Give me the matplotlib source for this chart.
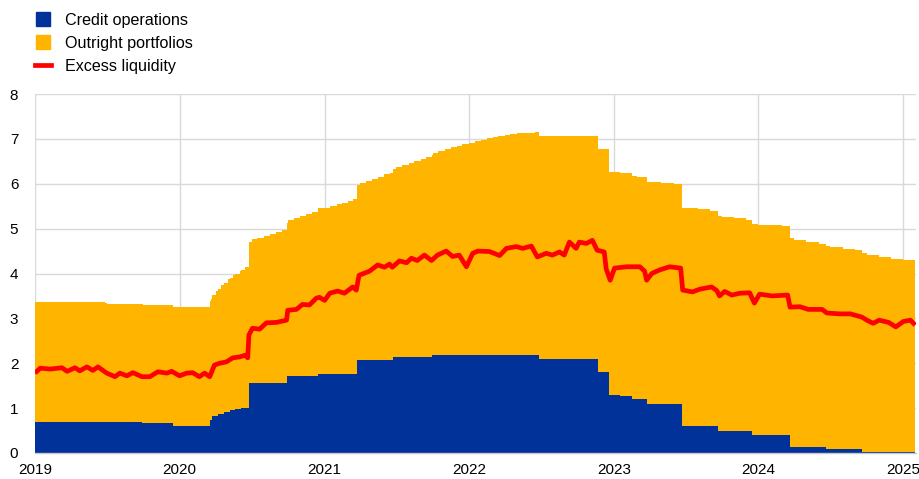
import matplotlib
matplotlib.use("Agg")
import matplotlib.pyplot as plt
import matplotlib.dates as mdates
from matplotlib.lines import Line2D
import pandas as pd

# EUR trillions
credit_dates = [
    "2019-01-01", "2019-06-26", "2019-09-27", "2019-12-16",
    "2020-03-17", "2020-03-24", "2020-04-08", "2020-04-22", "2020-05-06",
    "2020-05-20", "2020-06-03", "2020-06-23", "2020-09-29", "2020-12-16",
    "2021-03-23", "2021-06-22", "2021-09-28", "2022-06-27", "2022-11-21",
    "2022-12-19", "2023-01-16", "2023-02-15", "2023-03-25", "2023-06-23",
    "2023-09-20", "2023-12-15", "2024-03-21", "2024-06-19", "2024-09-18",
    "2025-01-31",
]
credit_ops = [
    0.70, 0.68, 0.66, 0.61,
    0.73, 0.82, 0.88, 0.92, 0.95,
    0.98, 1.00, 1.56, 1.71, 1.77,
    2.07, 2.15, 2.19, 2.10, 1.80,
    1.29, 1.27, 1.20, 1.09, 0.60,
    0.49, 0.40, 0.13, 0.09, 0.03,
    0.03,
]

outright_dates = [
    "2019-01-01", "2019-07-01", "2019-10-01", "2019-12-01", "2020-03-01",
    "2020-03-20", "2020-04-01", "2020-04-15", "2020-05-01", "2020-05-15",
    "2020-06-01", "2020-06-15", "2020-07-01", "2020-07-15", "2020-08-01",
    "2020-08-15", "2020-09-01", "2020-09-15", "2020-10-01", "2020-10-15",
    "2020-11-01", "2020-11-15", "2020-12-01", "2020-12-15", "2021-01-01",
    "2021-01-15", "2021-02-01", "2021-02-15", "2021-03-01", "2021-03-15",
    "2021-04-01", "2021-04-15", "2021-05-01", "2021-05-15", "2021-06-01",
    "2021-06-15", "2021-07-01", "2021-07-15", "2021-08-01", "2021-08-15",
    "2021-09-01", "2021-09-15", "2021-10-01", "2021-10-15", "2021-11-01",
    "2021-11-15", "2021-12-01", "2021-12-15", "2022-01-01", "2022-01-15",
    "2022-02-01", "2022-02-15", "2022-03-01", "2022-03-15", "2022-04-01",
    "2022-04-15", "2022-05-01", "2022-05-15", "2022-06-01", "2022-06-15",
    "2022-07-01", "2023-03-01", "2023-04-01", "2023-05-01", "2023-06-01",
    "2023-06-23", "2023-08-01", "2023-09-01", "2023-10-01", "2023-11-01",
    "2023-12-01", "2024-01-01", "2024-02-01", "2024-03-01", "2024-04-01",
    "2024-05-01", "2024-06-01", "2024-07-01", "2024-08-01", "2024-09-01",
    "2024-10-01", "2024-11-01", "2024-12-01", "2025-01-01", "2025-01-31",
]
outright_portfolios = [
    2.66, 2.65, 2.63, 2.64, 2.65,
    2.70, 2.78, 2.86, 2.95, 3.02,
    3.08, 3.14, 3.20, 3.24, 3.28,
    3.32, 3.37, 3.42, 3.48, 3.53,
    3.58, 3.62, 3.66, 3.68, 3.70,
    3.74, 3.78, 3.81, 3.85, 3.90,
    3.95, 3.99, 4.04, 4.09, 4.15,
    4.18, 4.22, 4.27, 4.32, 4.36,
    4.40, 4.45, 4.50, 4.54, 4.58,
    4.62, 4.66, 4.69, 4.72, 4.76,
    4.79, 4.82, 4.85, 4.88, 4.90,
    4.92, 4.93, 4.94, 4.95, 4.96,
    4.97, 4.96, 4.94, 4.93, 4.91,
    4.86, 4.83, 4.79, 4.77, 4.74,
    4.71, 4.69, 4.67, 4.65, 4.62,
    4.57, 4.53, 4.49, 4.46, 4.43,
    4.38, 4.34, 4.30, 4.26, 4.26,
]

excess_dates = [
    "2019-01-01", "2019-01-14", "2019-02-08", "2019-03-10", "2019-03-23",
    "2019-04-12", "2019-04-24", "2019-05-12", "2019-05-27", "2019-06-09",
    "2019-07-01", "2019-07-22", "2019-08-03", "2019-08-21", "2019-09-05",
    "2019-09-28", "2019-10-18", "2019-11-07", "2019-11-30", "2019-12-12",
    "2020-01-01", "2020-01-19", "2020-02-03", "2020-02-20", "2020-03-04",
    "2020-03-17", "2020-03-29", "2020-04-11", "2020-04-28", "2020-05-14",
    "2020-05-31", "2020-06-15", "2020-06-21", "2020-06-24", "2020-07-03",
    "2020-07-21", "2020-08-07", "2020-09-01", "2020-09-27", "2020-09-30",
    "2020-10-22", "2020-11-06", "2020-11-24", "2020-12-11", "2020-12-19",
    "2021-01-01", "2021-01-14", "2021-02-03", "2021-02-20", "2021-03-13",
    "2021-03-22", "2021-03-29", "2021-04-24", "2021-05-15", "2021-06-01",
    "2021-06-14", "2021-06-21", "2021-07-09", "2021-07-27", "2021-08-08",
    "2021-08-23", "2021-09-10", "2021-09-28", "2021-10-13", "2021-11-04",
    "2021-11-20", "2021-12-07", "2021-12-25", "2022-01-10", "2022-01-23",
    "2022-02-21", "2022-03-19",
    "2022-04-05", "2022-04-30", "2022-05-16", "2022-06-07", "2022-06-22",
    "2022-07-15", "2022-07-30", "2022-08-17", "2022-08-29", "2022-09-11",
    "2022-09-28", "2022-10-06", "2022-10-24", "2022-11-08", "2022-11-20",
    "2022-12-08", "2022-12-13", "2022-12-23", "2023-01-03", "2023-02-03",
    "2023-03-08", "2023-03-20", "2023-03-25", "2023-04-07", "2023-04-27",
    "2023-05-22", "2023-06-19", "2023-06-24", "2023-07-19", "2023-08-06",
    "2023-09-05", "2023-09-18", "2023-09-25", "2023-10-08", "2023-10-26",
    "2023-11-15", "2023-12-10", "2023-12-22", "2024-01-04", "2024-02-05",
    "2024-03-15", "2024-03-21", "2024-04-15", "2024-05-06", "2024-06-10",
    "2024-06-22", "2024-07-25", "2024-08-20", "2024-09-18", "2024-10-01",
    "2024-10-17", "2024-11-01", "2024-11-25", "2024-12-13", "2025-01-01",
    "2025-01-19", "2025-01-31",
]
excess_liquidity = [
    1.78, 1.89, 1.87, 1.90, 1.82,
    1.90, 1.83, 1.92, 1.84, 1.92,
    1.78, 1.70, 1.78, 1.72, 1.79,
    1.70, 1.70, 1.81, 1.78, 1.82,
    1.72, 1.78, 1.79, 1.70, 1.78,
    1.70, 1.96, 2.00, 2.03, 2.12,
    2.14, 2.18, 2.12, 2.63, 2.78,
    2.76, 2.90, 2.91, 2.96, 3.18,
    3.20, 3.31, 3.30, 3.45, 3.47,
    3.40, 3.56, 3.61, 3.56, 3.70,
    3.63, 3.96, 4.05, 4.19, 4.14,
    4.21, 4.14, 4.28, 4.24, 4.34,
    4.29, 4.41, 4.29, 4.41, 4.50,
    4.38, 4.41, 4.15, 4.45, 4.50,
    4.49, 4.40,
    4.56, 4.60, 4.56, 4.61, 4.37,
    4.45, 4.41, 4.48, 4.41, 4.70,
    4.56, 4.70, 4.67, 4.74, 4.52,
    4.48, 4.10, 3.85, 4.12, 4.15,
    4.15, 4.05, 3.85, 4.00, 4.08,
    4.15, 4.12, 3.63, 3.59, 3.65,
    3.70, 3.62, 3.50, 3.60, 3.52,
    3.56, 3.57, 3.34, 3.54, 3.50,
    3.52, 3.25, 3.26, 3.20, 3.20,
    3.12, 3.10, 3.10, 3.03, 2.96,
    2.89, 2.96, 2.91, 2.81, 2.93,
    2.96, 2.85,
]

year_ticks = ["2019", "2020", "2021", "2022", "2023", "2024", "2025"]
y_ticks = [0, 1, 2, 3, 4, 5, 6, 7, 8]

BLUE = "#003299"
YELLOW = "#FFB400"
RED = "#FF0000"
GRID = "#D9D9D9"

plt.rcParams["font.family"] = ["Liberation Sans", "DejaVu Sans"]

# both balance-sheet items are step series; align them on a shared index
credit = pd.Series(credit_ops, index=pd.to_datetime(credit_dates))
outright = pd.Series(outright_portfolios, index=pd.to_datetime(outright_dates))
idx = credit.index.union(outright.index)
c = credit.reindex(idx).ffill()
o = outright.reindex(idx).ffill()
excess = pd.Series(excess_liquidity, index=pd.to_datetime(excess_dates))

fig = plt.figure(figsize=(9.2, 4.79), dpi=100)
ax = fig.add_axes([35 / 920, 1 - 453 / 479, (916 - 35) / 920, (453 - 94) / 479])

ax.fill_between(idx, 0, c, step="post", color=BLUE, linewidth=0, zorder=2)
ax.fill_between(idx, c, c + o, step="post", color=YELLOW, linewidth=0, zorder=2)
ax.plot(excess.index, excess.values, color=RED, linewidth=3.4,
        solid_joinstyle="round", solid_capstyle="butt", zorder=3)

ax.set_xlim(pd.Timestamp("2019-01-01"), pd.Timestamp("2025-02-02"))
ax.set_ylim(0, 8)
ax.set_yticks(y_ticks)
ax.set_xticks(pd.to_datetime([y + "-01-01" for y in year_ticks]))
ax.xaxis.set_major_formatter(mdates.DateFormatter("%Y"))

ax.grid(True, color=GRID, linewidth=1.0, zorder=0)
ax.set_axisbelow(True)
for side in ("top", "right", "left"):
    ax.spines[side].set_visible(False)
ax.spines["bottom"].set_color("#C8C8C8")
ax.spines["bottom"].set_linewidth(1.0)
ax.spines["bottom"].set_zorder(4)
ax.tick_params(axis="both", length=0, labelsize=11, colors="#000000")
ax.tick_params(axis="y", pad=12)
ax.tick_params(axis="x", pad=7)

handles = [
    Line2D([], [], marker="s", linestyle="none", markersize=10,
           markerfacecolor=BLUE, markeredgecolor=BLUE),
    Line2D([], [], marker="s", linestyle="none", markersize=10,
           markerfacecolor=YELLOW, markeredgecolor=YELLOW),
    Line2D([], [], color=RED, linewidth=3.4),
]
labels = ["Credit operations", "Outright portfolios", "Excess liquidity"]
fig.legend(handles, labels, loc="upper left", bbox_to_anchor=(35 / 920, 1 - 13 / 479),
           frameon=False, fontsize=11.6, handlelength=1.0, handletextpad=0.85,
           labelspacing=0.5, borderpad=0, borderaxespad=0)

fig.savefig("out.png", dpi=100)
